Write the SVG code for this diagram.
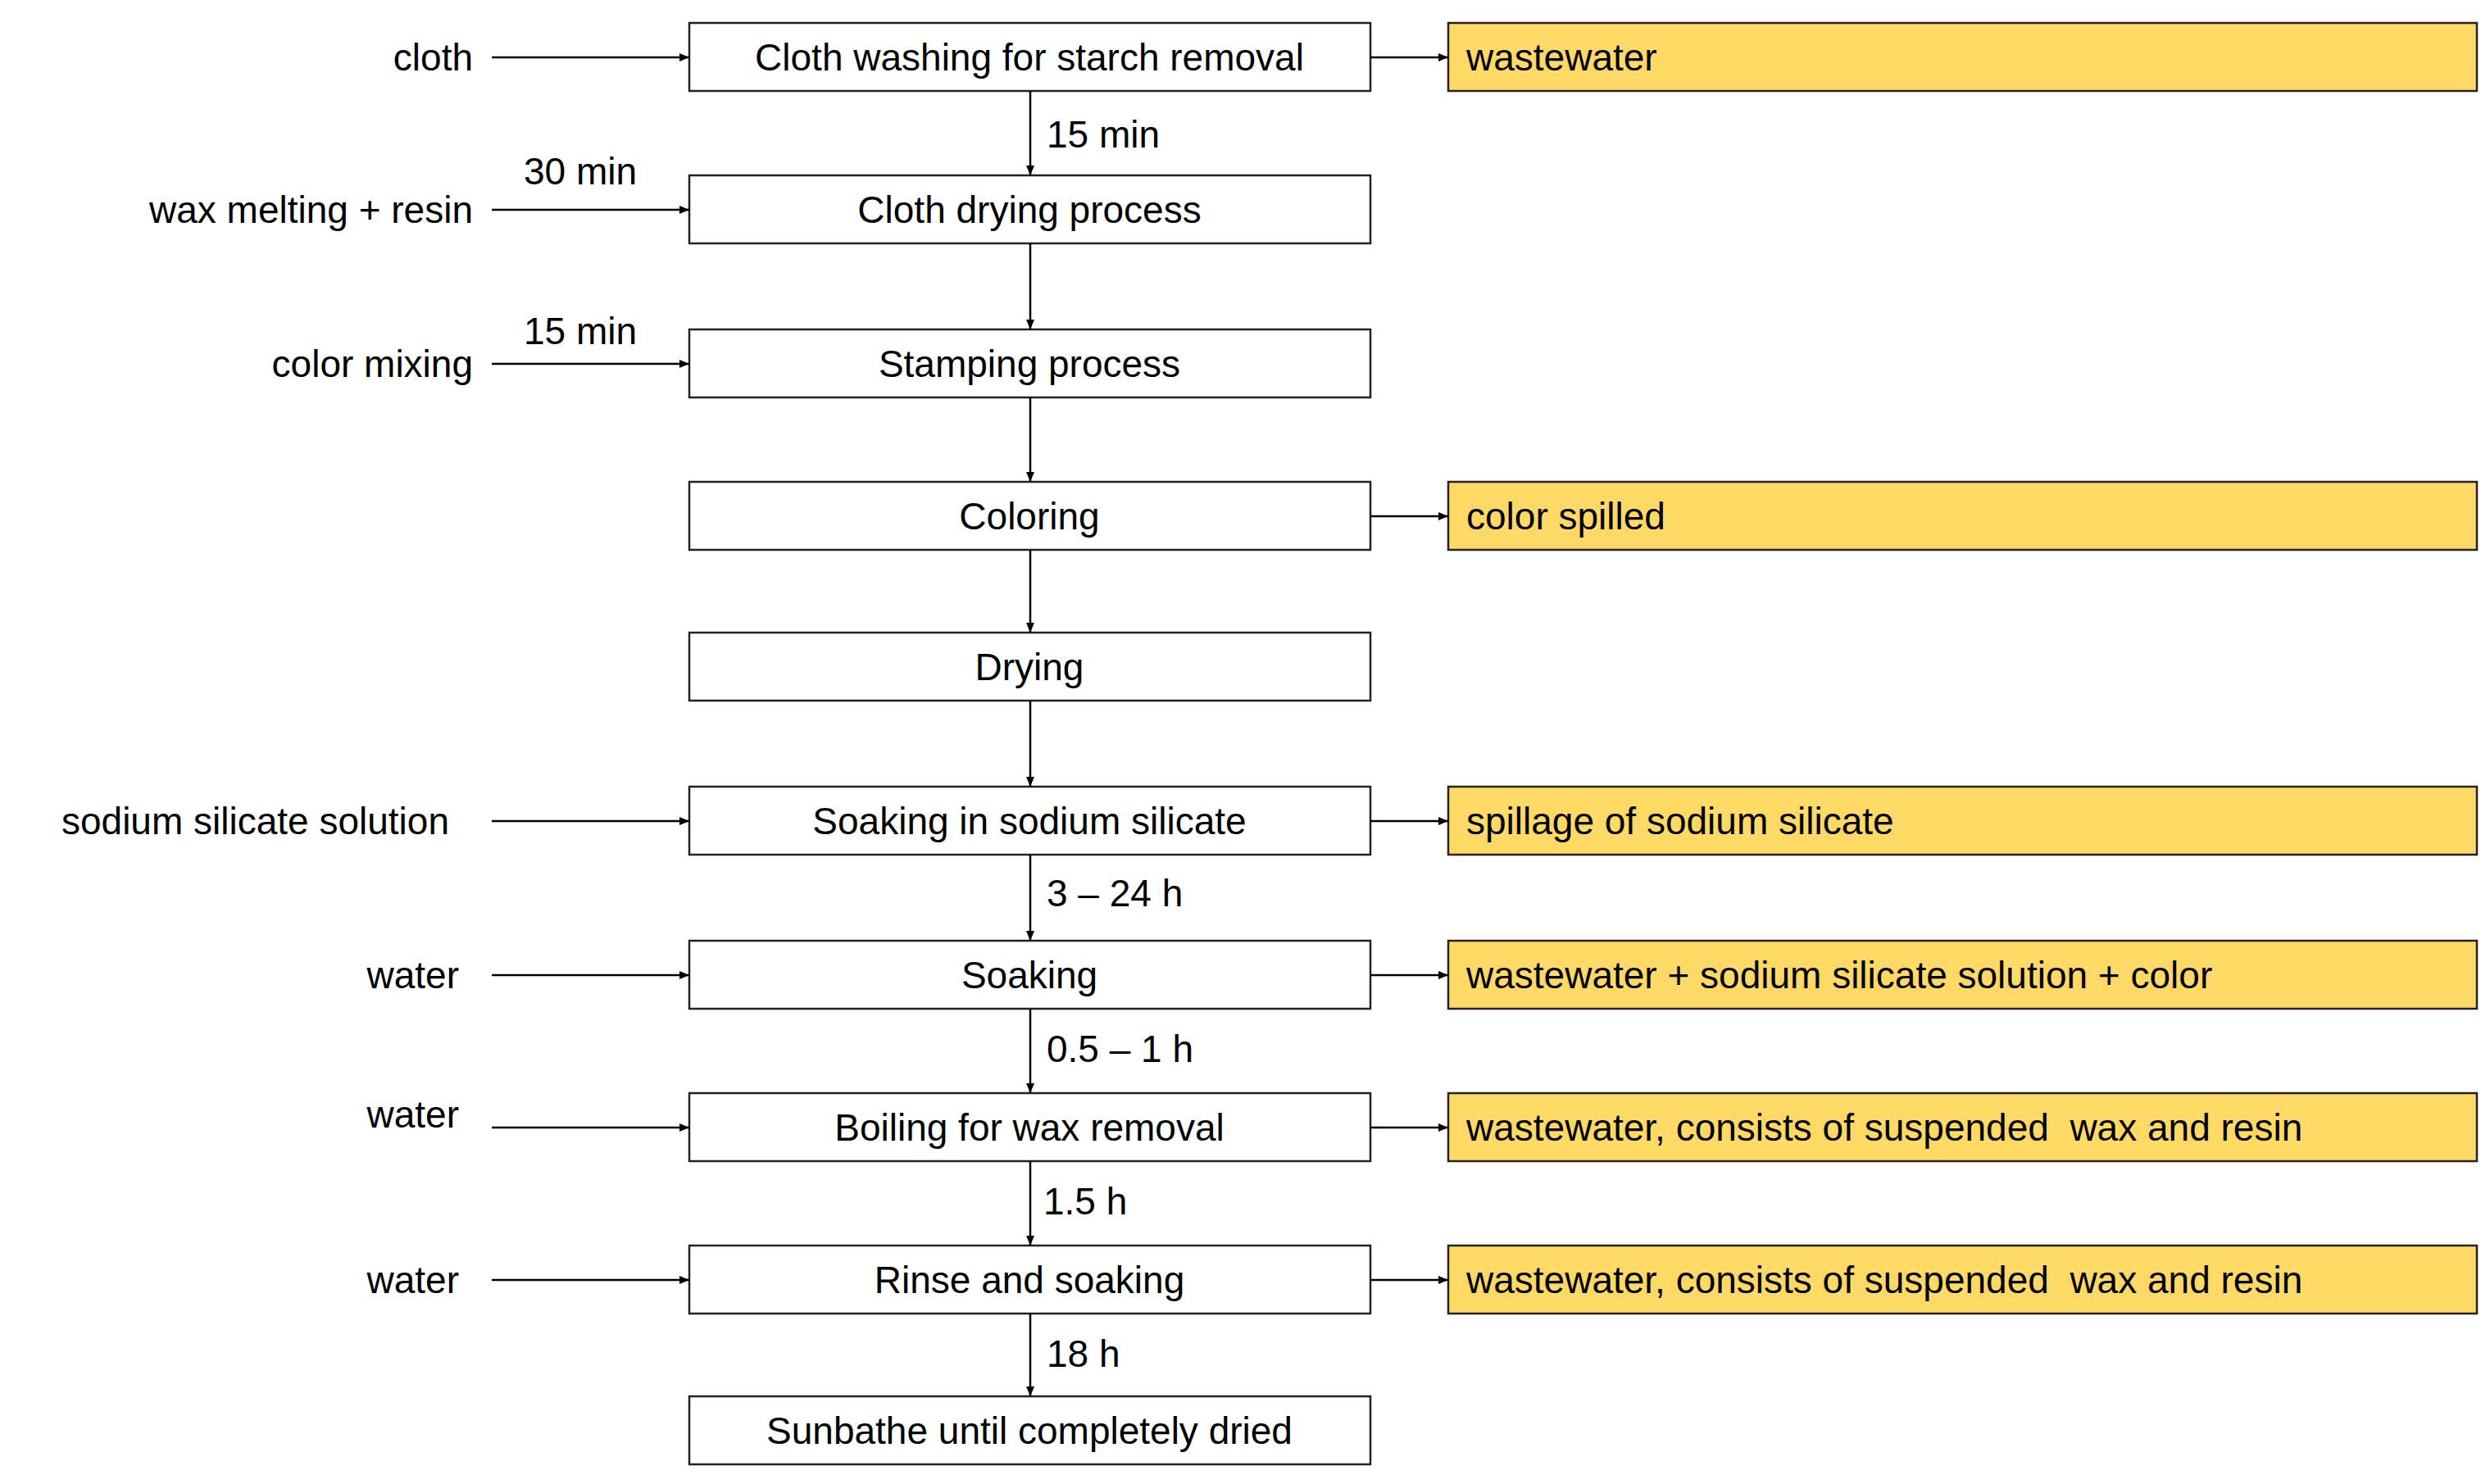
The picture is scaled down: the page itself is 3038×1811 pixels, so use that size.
<svg xmlns="http://www.w3.org/2000/svg" width="3038" height="1811" viewBox="0 0 3038 1811">
<style>
text{font-family:"Liberation Sans",Arial,sans-serif;font-size:46px;fill:#000}
.b{fill:#fff;stroke:#222;stroke-width:2.5}
.y{fill:#FFD966;stroke:#222;stroke-width:2.5}
.c{stroke:#000;stroke-width:2.5;fill:none;marker-end:url(#a)}
.m{text-anchor:middle}
.r{text-anchor:end}
</style>
<defs><marker id="a" markerWidth="12" markerHeight="10" refX="12" refY="5" orient="auto" markerUnits="userSpaceOnUse"><path d="M0,0L12,5L0,10z" fill="#000"/></marker></defs>
<rect width="3038" height="1811" fill="#fff"/>
<g id="n1"><rect class="b" x="841" y="28" width="831" height="83"/><text class="m" x="1256" y="86">Cloth washing for starch removal</text></g>
<g id="n2"><rect class="b" x="841" y="214" width="831" height="83"/><text class="m" x="1256" y="272">Cloth drying process</text></g>
<g id="n3"><rect class="b" x="841" y="402" width="831" height="83"/><text class="m" x="1256" y="460">Stamping process</text></g>
<g id="n4"><rect class="b" x="841" y="588" width="831" height="83"/><text class="m" x="1256" y="646">Coloring</text></g>
<g id="n5"><rect class="b" x="841" y="772" width="831" height="83"/><text class="m" x="1256" y="830">Drying</text></g>
<g id="n6"><rect class="b" x="841" y="960" width="831" height="83"/><text class="m" x="1256" y="1018">Soaking in sodium silicate</text></g>
<g id="n7"><rect class="b" x="841" y="1148" width="831" height="83"/><text class="m" x="1256" y="1206">Soaking</text></g>
<g id="n8"><rect class="b" x="841" y="1334" width="831" height="83"/><text class="m" x="1256" y="1392">Boiling for wax removal</text></g>
<g id="n9"><rect class="b" x="841" y="1520" width="831" height="83"/><text class="m" x="1256" y="1578">Rinse and soaking</text></g>
<g id="n10"><rect class="b" x="841" y="1704" width="831" height="83"/><text class="m" x="1256" y="1762">Sunbathe until completely dried</text></g>
<g id="o1"><rect class="y" x="1767" y="28" width="1255" height="83"/><text x="1789" y="86">wastewater</text></g>
<g id="o2"><rect class="y" x="1767" y="588" width="1255" height="83"/><text x="1789" y="646">color spilled</text></g>
<g id="o3"><rect class="y" x="1767" y="960" width="1255" height="83"/><text x="1789" y="1018">spillage of sodium silicate</text></g>
<g id="o4"><rect class="y" x="1767" y="1148" width="1255" height="83"/><text x="1789" y="1206">wastewater + sodium silicate solution + color</text></g>
<g id="o5"><rect class="y" x="1767" y="1334" width="1255" height="83"/><text x="1789" y="1392" xml:space="preserve">wastewater, consists of suspended  wax and resin</text></g>
<g id="o6"><rect class="y" x="1767" y="1520" width="1255" height="83"/><text x="1789" y="1578" xml:space="preserve">wastewater, consists of suspended  wax and resin</text></g>
<g id="inputs">
<text class="r" x="577" y="86">cloth</text>
<text class="r" x="577" y="272">wax melting + resin</text>
<text class="r" x="577" y="460">color mixing</text>
<text class="r" x="548" y="1018">sodium silicate solution</text>
<text class="r" x="560" y="1206">water</text>
<text class="r" x="560" y="1376">water</text>
<text class="r" x="560" y="1578">water</text>
</g>
<g id="labels">
<text x="1277" y="180">15 min</text>
<text x="639" y="225">30 min</text>
<text x="639" y="420">15 min</text>
<text x="1277" y="1106">3 – 24 h</text>
<text x="1277" y="1296">0.5 – 1 h</text>
<text x="1273" y="1482">1.5 h</text>
<text x="1277" y="1668">18 h</text>
</g>
<g id="connectors">
<path class="c" d="M600,70H841"/><path class="c" d="M600,256H841"/><path class="c" d="M600,444H841"/>
<path class="c" d="M600,1002H841"/><path class="c" d="M600,1190H841"/><path class="c" d="M600,1376H841"/><path class="c" d="M600,1562H841"/>
<path class="c" d="M1672,70H1767"/><path class="c" d="M1672,630H1767"/><path class="c" d="M1672,1002H1767"/><path class="c" d="M1672,1190H1767"/><path class="c" d="M1672,1376H1767"/><path class="c" d="M1672,1562H1767"/>
<path class="c" d="M1257,111V214"/><path class="c" d="M1257,297V402"/><path class="c" d="M1257,485V588"/><path class="c" d="M1257,671V772"/><path class="c" d="M1257,855V960"/><path class="c" d="M1257,1043V1148"/><path class="c" d="M1257,1231V1334"/><path class="c" d="M1257,1417V1520"/><path class="c" d="M1257,1603V1704"/>
</g>
</svg>
